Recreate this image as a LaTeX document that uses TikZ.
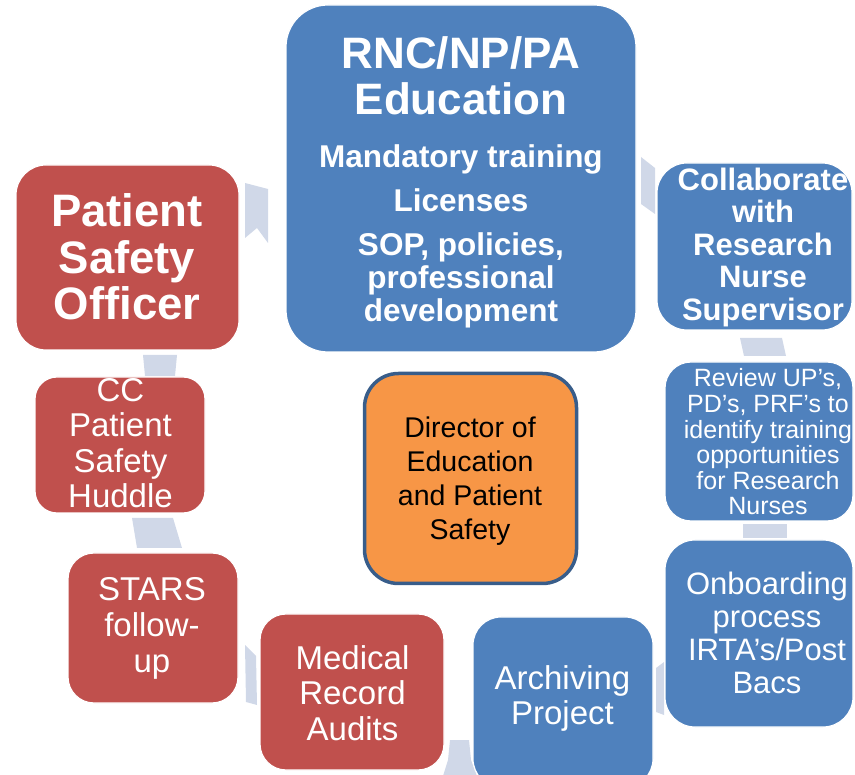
\documentclass[tikz,border=0pt]{standalone}
\usepackage{fontspec}
\setmainfont{Liberation Sans}
\definecolor{boxblue}{RGB}{79,129,189}
\definecolor{boxred}{RGB}{192,80,77}
\definecolor{boxorange}{RGB}{247,150,70}
\definecolor{dirborder}{RGB}{56,93,138}
\definecolor{linkgray}{RGB}{208,216,232}
\tikzset{
  cbox/.style={rectangle, draw=white, line width=1.2pt, inner sep=0pt},
  bluebox/.style={cbox, fill=boxblue},
  redbox/.style={cbox, fill=boxred},
  wtext/.style={text=white, align=center, inner sep=0pt},
  link/.style={fill=linkgray, draw=none},
}
\begin{document}
\begin{tikzpicture}[x=1pt,y=-1pt]
\useasboundingbox (0,0) rectangle (855,775);
% connectors (behind boxes)
\fill[link] (245,183) -- (268,189) -- (268,243) -- (257,228) -- (245,238) -- cycle;
\fill[link] (641,157) -- (655,168) -- (655,214) -- (641,204) -- cycle;
\fill[link] (740,338) -- (782,338) -- (786,356) -- (744,356) -- cycle;
\fill[link] (743,524) -- (787,524) -- (787,538) -- (743,538) -- cycle;
\fill[link] (656,668) -- (664,662) -- (664,715) -- (656,712) -- cycle;
\fill[link] (450,740) -- (469,740) -- (471,760) -- (477,776) -- (443,776) -- (448,760) -- cycle;
\fill[link] (245,645) -- (256,656) -- (257,705) -- (246,702) -- cycle;
\fill[link] (132,518) -- (173,518) -- (182,548) -- (137,548) -- cycle;
\fill[link] (143,355) -- (177,355) -- (175,376) -- (145,376) -- cycle;
% boxes
\node[bluebox, rounded corners=42pt, minimum width=350pt, minimum height=347pt] (rnc) at (461,178.5) {};
\node[bluebox, rounded corners=30pt, minimum width=195pt, minimum height=167pt] (collab) at (754.5,246.5) {};
\node[bluebox, rounded corners=26pt, minimum width=188pt, minimum height=159pt] (review) at (759,441.5) {};
\node[bluebox, rounded corners=30pt, minimum width=188pt, minimum height=187pt] (onb) at (759,633.5) {};
\node[bluebox, rounded corners=28pt, minimum width=180pt, minimum height=170pt] (arch) at (563,702) {};
\node[redbox, rounded corners=26pt, minimum width=184pt, minimum height=156pt] (med) at (352,692) {};
\node[redbox, rounded corners=26pt, minimum width=170pt, minimum height=150pt] (stars) at (153,628) {};
\node[redbox, rounded corners=22pt, minimum width=170pt, minimum height=136pt] (cc) at (120,445) {};
\node[redbox, rounded corners=30pt, minimum width=223pt, minimum height=185pt] (pso) at (127.5,257.5) {};
\node[rectangle, rounded corners=34pt, fill=boxorange, draw=dirborder, line width=3.5pt, minimum width=212pt, minimum height=210pt] (dir) at (470.5,478.5) {};
% texts
\node[wtext, font=\bfseries\fontsize{44}{46}\selectfont] (rnct) at (461,76) {RNC/NP/PA\\Education};
\node[wtext, font=\bfseries\fontsize{31.5}{33}\selectfont] (rncb) at (461,236) {Mandatory training\\[11pt]Licenses\\[11pt]SOP, policies,\\professional\\development};
\node[wtext, font=\bfseries\fontsize{31}{32.5}\selectfont] (collabt) at (763,247) {Collaborate\\with\\Research\\Nurse\\Supervisor};
\node[wtext, font=\fontsize{25}{25.6}\selectfont] (reviewt) at (768,442) {Review UP’s,\\PD’s, PRF’s to\\identify training\\opportunities\\for Research\\Nurses};
\node[wtext, font=\fontsize{31}{33}\selectfont] (onbt) at (767,633) {Onboarding\\process\\IRTA’s/Post\\Bacs};
\node[wtext, font=\fontsize{33}{35}\selectfont] (archt) at (562.5,698) {Archiving\\Project};
\node[wtext, font=\fontsize{33}{35.5}\selectfont] (medt) at (352.5,693) {Medical\\Record\\Audits};
\node[wtext, font=\fontsize{33}{36}\selectfont] (starst) at (152,628) {STARS\\follow-\\up};
\node[wtext, font=\fontsize{33}{35.3}\selectfont] (cct) at (120.5,443) {CC\\Patient\\Safety\\Huddle};
\node[wtext, font=\bfseries\fontsize{45.5}{46.5}\selectfont] (psot) at (127,257) {Patient\\Safety\\Officer};
\node[align=center, inner sep=0pt, text=black, font=\fontsize{28.5}{34}\selectfont] (dirt) at (470,481) {Director of\\Education\\and Patient\\Safety};
\end{tikzpicture}
\end{document}
